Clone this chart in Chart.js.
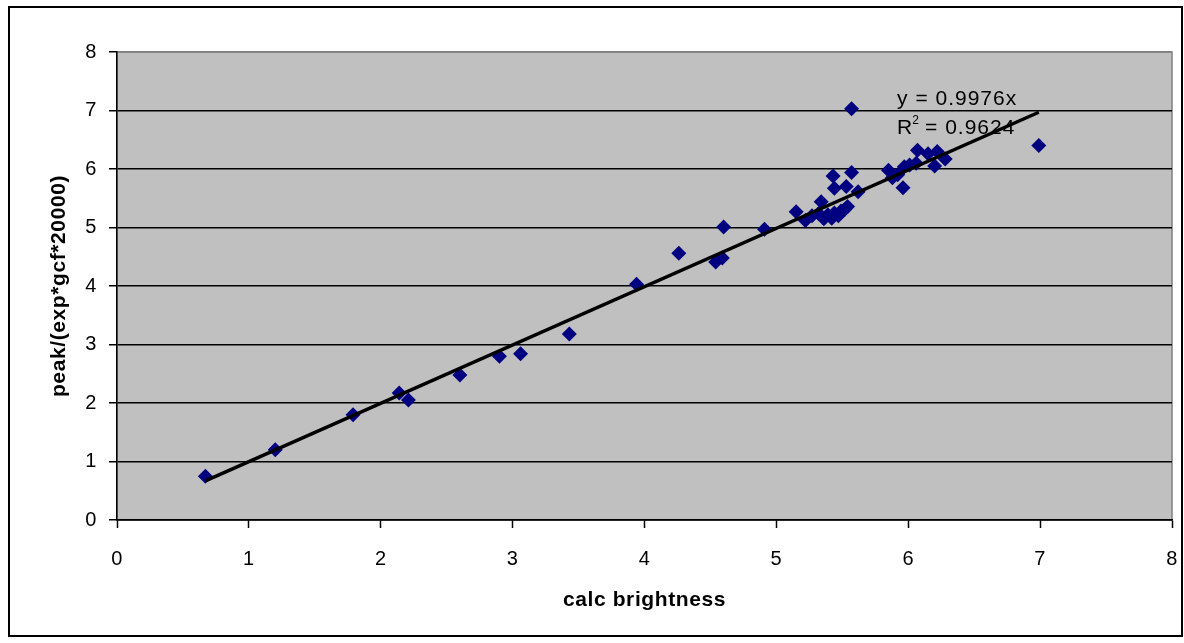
<!DOCTYPE html>
<html lang="en">
<head>
<meta charset="UTF-8">
<title>calc brightness</title>
<script src="https://cdn.jsdelivr.net/npm/chart.js@4.4.1/dist/chart.umd.min.js"></script>
<style>
    body { margin: 0; background: #ffffff; }
    canvas { display: block; }
</style>
</head>
<body>
<canvas id="myChart" width="1184" height="643"></canvas>
<script>
    // measured points (calc brightness vs peak/(exp*gcf*20000))
    const calcBrightness = [0.67, 1.20, 1.79, 2.14, 2.21, 2.60, 2.90, 3.06, 3.43, 3.94,
        4.26, 4.54, 4.59, 4.60, 4.91, 5.15, 5.22, 5.27, 5.32, 5.34,
        5.36, 5.39, 5.42, 5.44, 5.47, 5.49, 5.52, 5.54, 5.43, 5.44,
        5.53, 5.57, 5.62, 5.57, 5.85, 5.88, 5.92, 5.96, 5.97, 6.01,
        6.06, 6.07, 6.15, 6.20, 6.22, 6.28, 6.99];
    const peakNorm = [0.75, 1.20, 1.80, 2.17, 2.05, 2.48, 2.80, 2.84, 3.18, 4.03,
        4.56, 4.41, 4.48, 5.01, 4.97, 5.27, 5.12, 5.20, 5.24, 5.44,
        5.15, 5.22, 5.16, 5.25, 5.20, 5.28, 5.31, 5.36, 5.88, 5.67,
        5.70, 5.94, 5.61, 7.03, 5.98, 5.85, 5.90, 5.68, 6.04, 6.07,
        6.10, 6.32, 6.26, 6.05, 6.30, 6.17, 6.40];

    // linear trend line through origin, ends
    const trendX = [0.67, 6.99];
    const trendY = [0.67, 6.97];
    const trendText = "y = 0.9976x";
    const r2Text = "0.9624";

    const xTicks = [0, 1, 2, 3, 4, 5, 6, 7, 8];
    const yTicks = [0, 1, 2, 3, 4, 5, 6, 7, 8];

    const points = calcBrightness.map(function (v, i) { return { x: v, y: peakNorm[i] }; });
    const trend = trendX.map(function (v, i) { return { x: v, y: trendY[i] }; });

    const FONT = "'Liberation Sans', Arial, sans-serif";

    const frame = {
        id: "frame",
        beforeDraw(chart) {
            const c = chart.ctx;
            const a = chart.chartArea;
            c.save();
            c.fillStyle = "#ffffff";
            c.fillRect(0, 0, chart.width, chart.height);
            c.strokeStyle = "#000000";
            c.lineWidth = 2;
            c.strokeRect(9, 7, 1173, 629);
            c.fillStyle = "#c0c0c0";
            c.fillRect(a.left, a.top, a.right - a.left, a.bottom - a.top);
            c.strokeStyle = "#808080";
            c.lineWidth = 1.5;
            c.strokeRect(a.left, a.top, a.right - a.left, a.bottom - a.top);
            c.restore();
            c.letterSpacing = "0.6px";
        },
        afterDraw(chart) {
            const c = chart.ctx;
            const xs = chart.scales.x;
            const ys = chart.scales.y;
            const x0 = xs.getPixelForValue(5.915);
            c.save();
            c.fillStyle = "#000000";
            c.textAlign = "left";
            c.textBaseline = "alphabetic";
            c.letterSpacing = "1px";
            c.font = "21px " + FONT;
            c.fillText(trendText, x0, ys.getPixelForValue(7.1));
            const yb = ys.getPixelForValue(6.59);
            c.fillText("R", x0, yb);
            const w = c.measureText("R").width;
            c.font = "12px " + FONT;
            c.letterSpacing = "0px";
            c.fillText("2", x0 + w - 1, yb - 10);
            c.font = "21px " + FONT;
            c.letterSpacing = "1px";
            c.fillText(" = " + r2Text, x0 + w + 5, yb);
            c.restore();
        }
    };

    const tickFont = { family: FONT, size: 20 };
    const titleFont = { family: FONT, size: 21, weight: "bold" };

    const myChart = new Chart(document.getElementById("myChart"), {
        type: "scatter",
        data: {
            datasets: [
                {
                    label: "trend",
                    type: "line",
                    data: trend,
                    borderColor: "#000000",
                    borderWidth: 3.5,
                    pointRadius: 0,
                    fill: false,
                    order: 0
                },
                {
                    label: "points",
                    data: points,
                    pointStyle: "rectRot",
                    pointRadius: 7.5,
                    pointHoverRadius: 7.5,
                    backgroundColor: "#000080",
                    borderColor: "#000080",
                    borderWidth: 0,
                    order: 1
                }
            ]
        },
        options: {
            responsive: false,
            animation: false,
            events: [],
            layout: { padding: { top: 52, right: 12, bottom: 23, left: 40 } },
            plugins: {
                legend: { display: false },
                tooltip: { enabled: false }
            },
            scales: {
                x: {
                    type: "linear",
                    min: 0,
                    max: 8,
                    afterFit(scale) {
                        scale.height = 100;
                        scale.paddingRight = 0;
                        scale.paddingLeft = 0;
                    },
                    afterBuildTicks(scale) { scale.ticks = xTicks.map(function (v) { return { value: v }; }); },
                    grid: { drawOnChartArea: false, drawTicks: true, tickLength: 8, tickColor: "#000000", tickWidth: 1.5 },
                    border: { color: "#000000", width: 1.5 },
                    ticks: { color: "#000000", font: tickFont, padding: 19, maxRotation: 0 },
                    title: { display: true, text: "calc brightness", color: "#000000", font: titleFont, padding: { top: 0, bottom: 7 } }
                },
                y: {
                    type: "linear",
                    min: 0,
                    max: 8,
                    afterFit(scale) { scale.width = 77; },
                    afterBuildTicks(scale) { scale.ticks = yTicks.map(function (v) { return { value: v }; }); },
                    grid: {
                        color: function (ctx) { return ctx.tick && ctx.tick.value === 8 ? "#808080" : "#000000"; },
                        lineWidth: 1.5,
                        drawTicks: true,
                        tickLength: 8,
                        tickColor: "#000000",
                        tickWidth: 1.5
                    },
                    border: { color: "#000000", width: 1.5 },
                    ticks: { color: "#000000", font: tickFont, padding: 12 },
                    title: { display: true, text: "peak/(exp*gcf*20000)", color: "#000000", font: titleFont, padding: { top: 7, bottom: 0 } }
                }
            }
        },
        plugins: [frame]
    });
</script>
</body>
</html>
